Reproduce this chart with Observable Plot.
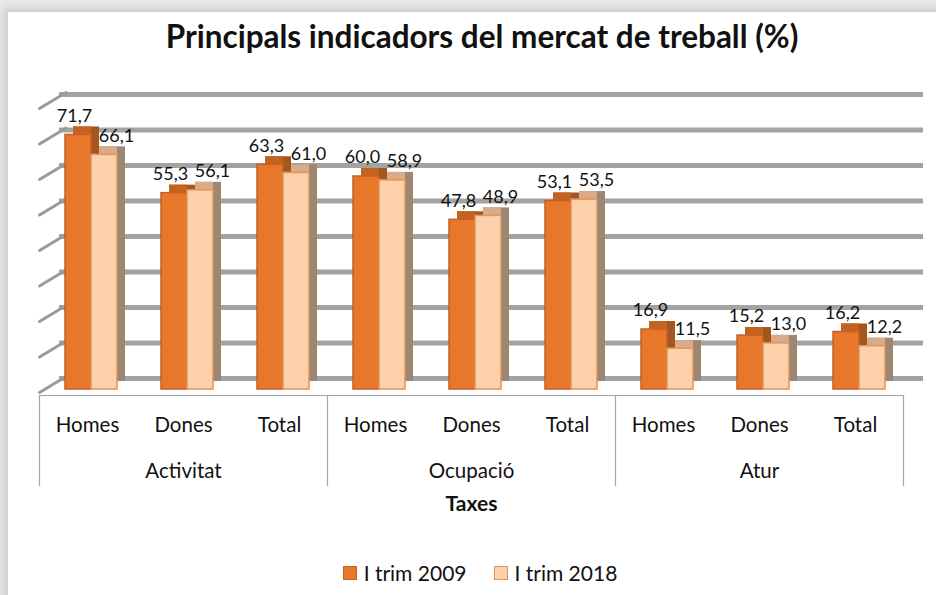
<!DOCTYPE html>
<html>
<head>
<meta charset="utf-8">
<script src="https://cdn.jsdelivr.net/npm/d3@7"></script>
<script src="https://cdn.jsdelivr.net/npm/@observablehq/plot@0.6"></script>
<style>
  html, body { margin: 0; padding: 0; background: #e9e9e9; }
  body { width: 936px; height: 595px; position: relative; overflow: hidden; font-family: Lato, "Open Sans", sans-serif; }
  #card { position: absolute; left: 8px; top: 12px; width: 940px; height: 600px; background: #fff; box-shadow: -4px -4px 8px rgba(0,0,0,0.12); }
  #title { position: absolute; left: 0; width: 964px; top: 17px; text-align: center; font-size: 31.5px; font-weight: bold; color: #111; }
  #chart { position: absolute; left: 0; top: 70px; }
  #legend { position: absolute; left: 12px; width: 936px; top: 560px; display: flex; justify-content: center; gap: 27px; font-size: 21px; color: #111; }
  .item { display: flex; align-items: center; gap: 7px; }
  .sw { width: 12px; height: 12px; border: 1.5px solid; }
</style>
</head>
<body>
<div id="card"></div>
<div id="title">Principals indicadors del mercat de treball (%)</div>
<div id="chart"></div>
<div id="legend"></div>
<script>
// ---- data ----
const groups = ["Activitat", "Ocupació", "Atur"];
const subs = ["Homes", "Dones", "Total"];
const series = ["I trim 2009", "I trim 2018"];
const values2009 = [71.7, 55.3, 63.3, 60.0, 47.8, 53.1, 16.9, 15.2, 16.2];
const values2018 = [66.1, 56.1, 61.0, 58.9, 48.9, 53.5, 11.5, 13.0, 12.2];
const gridTicks = [0, 10, 20, 30, 40, 50, 60, 70, 80];
const axisTitle = "Taxes";

// ---- styles ----
const frontColors = ["#e8772a", "#fcd0aa"];
const strokeColors = ["#c0622a", "#e2955a"];
const sideColors = ["#a4561f", "#9e8672"];
const topColors = ["#c4621f", "#d9ab88"];

// ---- build rows ----
const keys = [];
groups.forEach(g => subs.forEach(s => keys.push(g + "|" + s)));
const seriesValues = [values2009, values2018];
const rows = [];
series.forEach((s, si) => keys.forEach((k, i) => rows.push({key: k, series: s, si, value: seriesValues[si][i]})));
const fmt = v => v.toFixed(1).replace(".", ",");

const line = {draw(ctx, l) { ctx.moveTo(0, 0); ctx.lineTo(0, -l); }};

const marks = [];
// back gridlines (shifted to give depth)
marks.push(Plot.ruleY(gridTicks, {y: d => d, dx: 20, dy: -11, stroke: "#a3a3a3", strokeWidth: 5}));
// left wall ticks
marks.push(Plot.vector(gridTicks, {fx: () => keys[0], y: d => d, frameAnchor: "left", anchor: "start", rotate: 59, length: 31, shape: line, stroke: "#9a9a9a", strokeWidth: 3, dy: 3}));
// front floor edge
marks.push(Plot.ruleY([0], {dy: 6, stroke: "#a0a0a0", strokeWidth: 1}));
// bars per series
series.forEach((s, si) => {
  const d = rows.filter(r => r.si === si);
  marks.push(Plot.barY(d, {fx: "key", x: "series", y: "value", dx: 8, dy: -8, fill: sideColors[si]}));
  marks.push(Plot.barY(d, {fx: "key", x: "series", y1: "value", y2: "value", insetTop: -8, insetRight: 8, dx: 8, fill: topColors[si]}));
  marks.push(Plot.barY(d, {fx: "key", x: "series", y: "value", fill: frontColors[si], stroke: strokeColors[si], strokeWidth: 1.5}));
});
// labels
series.forEach((s, si) => {
  const d = rows.filter(r => r.si === si);
  marks.push(Plot.text(d, {fx: "key", x: "series", y: "value", text: r => fmt(r.value), dy: -19, dx: si === 0 ? -4 : 12, fontSize: 18, fill: "#111"}));
});
// category axis
marks.push(Plot.axisFx({anchor: "bottom", tickSize: 0, tickPadding: 28, fontSize: 20.5, label: null, tickFormat: k => k.split("|")[1], fill: "#111"}));
// group separators
const sepData = groups.map(g => ({key: g + "|" + subs[0], pos: "bottom-left"})).concat([{key: groups[groups.length - 1] + "|" + subs[subs.length - 1], pos: "bottom-right"}]);
marks.push(Plot.vector(sepData.filter(d => d.pos === "bottom-left"), {fx: "key", frameAnchor: "bottom-left", anchor: "start", rotate: 180, length: 90, shape: line, stroke: "#a6a6a6", strokeWidth: 1.2, dy: 6}));
marks.push(Plot.vector(sepData.filter(d => d.pos === "bottom-right"), {fx: "key", frameAnchor: "bottom-right", anchor: "start", rotate: 180, length: 90, shape: line, stroke: "#a6a6a6", strokeWidth: 1.2, dy: 6}));
// group labels
marks.push(Plot.text(groups, {fx: g => g + "|" + subs[1], text: g => g, frameAnchor: "bottom", dy: 88, fontSize: 20.5, fill: "#111"}));
// axis title
marks.push(Plot.text([axisTitle], {fx: () => groups[1] + "|" + subs[1], text: d => d, frameAnchor: "bottom", dy: 121, fontSize: 21, fontWeight: "bold", fill: "#111"}));

const chart = Plot.plot({
  width: 936,
  height: 460,
  marginLeft: 38,
  marginRight: 33,
  marginTop: 35,
  marginBottom: 141,
  style: {fontFamily: "Lato, 'Open Sans', sans-serif", background: "transparent", overflow: "visible"},
  fx: {domain: keys, paddingInner: 0, paddingOuter: 0, axis: null},
  x: {domain: series, paddingInner: 0, paddingOuter: 0.78, align: 0.6, axis: null},
  y: {domain: [0, 80], axis: null},
  marks
});
document.getElementById("chart").appendChild(chart);

// legend
const lg = document.getElementById("legend");
series.forEach((s, si) => {
  const it = document.createElement("div");
  it.className = "item";
  const sw = document.createElement("span");
  sw.className = "sw";
  sw.style.background = frontColors[si];
  sw.style.borderColor = strokeColors[si];
  const tx = document.createElement("span");
  tx.textContent = s;
  it.appendChild(sw); it.appendChild(tx);
  lg.appendChild(it);
});
</script>
</body>
</html>
